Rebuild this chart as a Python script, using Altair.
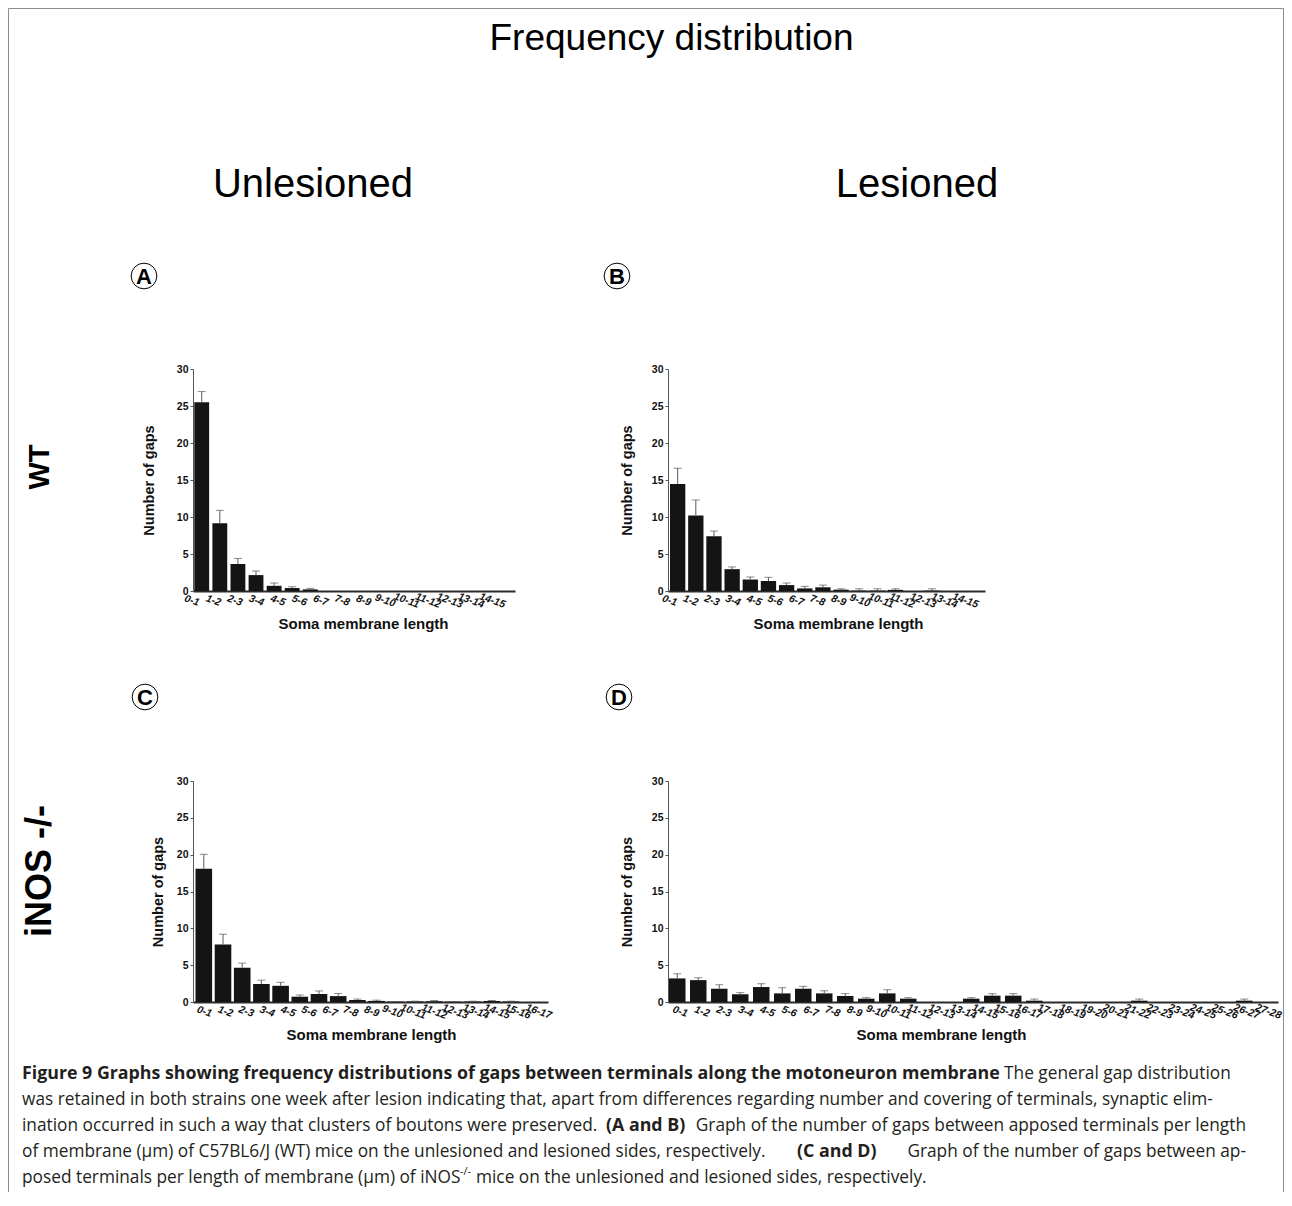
import altair as alt
import pandas as pd

# ---------------- data ----------------
cats_A = ["0-1", "1-2", "2-3", "3-4", "4-5", "5-6", "6-7", "7-8", "8-9", "9-10",
          "10-11", "11-12", "12-13", "13-14", "14-15"]
mean_A = [25.5, 9.15, 3.65, 2.15, 0.70, 0.40, 0.22, 0, 0, 0, 0, 0, 0, 0, 0]
sem_A = [1.45, 1.75, 0.75, 0.55, 0.38, 0.18, 0.14, 0, 0, 0, 0, 0, 0, 0, 0]

cats_B = ["0-1", "1-2", "2-3", "3-4", "4-5", "5-6", "6-7", "7-8", "8-9", "9-10",
          "10-11", "11-12", "12-13", "13-14", "14-15"]
mean_B = [14.45, 10.2, 7.4, 2.95, 1.55, 1.35, 0.80, 0.35, 0.50, 0.18, 0.05, 0.05, 0.15, 0, 0.05]
sem_B = [2.15, 2.10, 0.70, 0.30, 0.35, 0.50, 0.28, 0.28, 0.30, 0.12, 0.25, 0.25, 0.15, 0, 0.25]

cats_C = ["0-1", "1-2", "2-3", "3-4", "4-5", "5-6", "6-7", "7-8", "8-9", "9-10",
          "10-11", "11-12", "12-13", "13-14", "14-15", "15-16", "16-17"]
mean_C = [18.1, 7.8, 4.65, 2.45, 2.2, 0.72, 1.08, 0.80, 0.27, 0.15, 0.05, 0.08, 0.10, 0.05, 0.08, 0.12, 0.08]
sem_C = [1.95, 1.40, 0.63, 0.52, 0.47, 0.23, 0.42, 0.36, 0.13, 0.10, 0.02, 0.03, 0.10, 0.02, 0.03, 0.08, 0.03]

cats_D = ["0-1", "1-2", "2-3", "3-4", "4-5", "5-6", "6-7", "7-8", "8-9", "9-10",
          "10-11", "11-12", "12-13", "13-14", "14-15", "15-16", "16-17", "17-18", "18-19", "19-20",
          "20-21", "21-22", "22-23", "23-24", "24-25", "25-26", "26-27", "27-28"]
mean_D = [3.2, 2.97, 1.8, 1.05, 2.03, 1.17, 1.8, 1.17, 0.82, 0.45, 1.17, 0.45, 0, 0, 0.45, 0.86, 0.86, 0.18,
          0, 0, 0, 0, 0.18, 0, 0, 0, 0, 0.18]
sem_D = [0.63, 0.32, 0.55, 0.22, 0.45, 0.77, 0.32, 0.36, 0.32, 0.14, 0.50, 0.14, 0, 0, 0.14, 0.27, 0.27, 0.22,
         0, 0, 0, 0, 0.22, 0, 0, 0, 0, 0.22]

y_ticks = [0, 5, 10, 15, 20, 25, 30]

main_title = "Frequency distribution"
col_titles = ["Unlesioned", "Lesioned"]
row_titles = ["WT", "iNOS -/-"]
panel_letters = ["A", "B", "C", "D"]

caption_segments = [
    ["Figure 9 Graphs showing frequency distributions of gaps between terminals along the motoneuron membrane",
     ". The general gap distribution"],
    ["was retained in both strains one week after lesion indicating that, apart from differences regarding "
     "number and covering of terminals, synaptic elim-"],
    ["ination occurred in such a way that clusters of boutons were preserved.", "(A and B)",
     "Graph of the number of gaps between apposed terminals per length"],
    ["of membrane (\u03bcm) of C57BL6/J (WT) mice on the unlesioned and lesioned sides, respectively.", "(C and D)",
     "Graph of the number of gaps between ap-"],
    ["posed terminals per length of membrane (\u03bcm) of iNOS", "-/-",
     "mice on the unlesioned and lesioned sides, respectively."],
]

# ---------------- styling ----------------
FONT = "Liberation Sans"
CFONT = "Open Sans"
BAR = "#141414"
ERR = "#5a5a5a"
OX, OY = 193, 369   # page position of panel A's plot origin


def panel(cats, means, sems, w, h, bar_range, bar_pi, lab_band, xt_x, yt_x):
    df = pd.DataFrame({"cat": cats, "mean": means, "sem": sems})
    xs = alt.Scale(domain=cats, range=bar_range, paddingInner=bar_pi, paddingOuter=0)
    ys = alt.Scale(domain=[0, 30], nice=False)
    ya = alt.Axis(values=y_ticks, grid=False, domainColor="#555", domainWidth=1,
                  tickColor="#555", tickSize=3, tickWidth=1, labelOverlap=False,
                  labelFont=FONT, labelFontSize=10.5, labelFontWeight="bold", labelColor="#111",
                  labelPadding=2, title="Number of gaps", titleFont=FONT, titleFontSize=14.5,
                  titleFontWeight="bold", titleColor="#111", titleX=yt_x, titleBaseline="bottom")
    base = alt.Chart(df)
    bars = base.mark_bar(color=BAR).encode(
        x=alt.X("cat:N", sort=None, scale=xs, axis=None),
        y=alt.Y("mean:Q", scale=ys, axis=ya))
    err = base.transform_filter("datum.sem > 0").transform_calculate(top="datum.mean + datum.sem")
    whisk = err.mark_rule(color=ERR, strokeWidth=1).encode(
        x=alt.X("cat:N", sort=None), y=alt.Y("mean:Q", scale=ys, axis=ya), y2="top:Q")
    cap = err.mark_tick(color=ERR, size=8, thickness=1).encode(
        x=alt.X("cat:N", sort=None), y=alt.Y("top:Q", scale=ys, axis=ya))
    lpo, lal = lab_band
    ls = alt.Scale(domain=cats, paddingInner=0, paddingOuter=lpo, align=lal)
    xa = alt.Axis(orient="bottom", labels=False, ticks=False, domainColor="#2b2b2b", domainWidth=2,
                  title="Soma membrane length", titleFont=FONT, titleFontSize=15,
                  titleFontWeight="bold", titleColor="#111", titleX=xt_x, titleY=25,
                  titleBaseline="top", titleAlign="center")
    labels = base.mark_text(angle=20, align="center", baseline="top", font=FONT, fontSize=10.5,
                            fontWeight="bold", fontStyle="italic", color="#111").encode(
        x=alt.X("cat:N", sort=None, scale=ls, axis=xa),
        y=alt.value(h + 5), text="cat:N")
    return alt.layer(alt.layer(bars, whisk, cap), labels).resolve_scale(x="independent")


def one():
    return alt.Chart(pd.DataFrame({"t": [0]}))


def text(s, x, y, size, weight="normal", align="center", baseline="alphabetic", angle=0,
         color="#000", font=FONT):
    return alt.Chart(pd.DataFrame({"t": [s]})).mark_text(
        font=font, fontSize=size, fontWeight=weight, align=align, baseline=baseline,
        angle=angle, color=color).encode(
        x=alt.value(x - OX), y=alt.value(y - OY), text="t:N")


def circle(x, y):
    return one().mark_point(shape="circle", size=660, filled=False, color="#000",
                            strokeWidth=1, opacity=1).encode(
        x=alt.value(x - OX), y=alt.value(y - OY))


def rule(x, y, x2=None, y2=None):
    enc = dict(x=alt.value(x - OX), y=alt.value(y - OY))
    if x2 is not None:
        enc["x2"] = alt.value(x2 - OX)
    if y2 is not None:
        enc["y2"] = alt.value(y2 - OY)
    return one().mark_rule(color="#8c8c8c", strokeWidth=1).encode(**enc)


FR_L, FR_R, FR_T, FR_B = 8.5, 1283.5, 8.5, 1192
annos = [
    rule(FR_L, FR_T, x2=FR_R),
    rule(FR_L, FR_T, y2=FR_B),
    rule(FR_R, FR_T, y2=FR_B),
    text(main_title, 671.5, 49.7, 37),
    text(col_titles[0], 313, 197, 40),
    text(col_titles[1], 917, 197, 40),
    text(row_titles[0], 40, 467, 29, weight="bold", baseline="middle", angle=270),
    text(row_titles[1], 40, 871, 36, weight="bold", baseline="middle", angle=270),
]
for (cx, cy), letter in zip([(144, 276), (617, 276), (145, 697), (619, 697)], panel_letters):
    annos.append(circle(cx, cy))
    annos.append(text(letter, cx, cy + 1, 22, weight="bold", baseline="middle"))

CAP = "#231f20"
CS = 17.3   # regular caption size
CB = 17.8   # bold caption size
ys_cap = [1079, 1105, 1131, 1157, 1183]
seg = caption_segments
annos += [
    text(seg[0][0], 22, ys_cap[0], CB, weight="bold", align="left", color=CAP, font=CFONT),
    text(seg[0][1], 995, ys_cap[0], CS, align="left", color=CAP, font=CFONT),
    text(seg[1][0], 22, ys_cap[1], CS, align="left", color=CAP, font=CFONT),
    text(seg[2][0], 22, ys_cap[2], CS, align="left", color=CAP, font=CFONT),
    text(seg[2][1], 606, ys_cap[2], CB, weight="bold", align="left", color=CAP, font=CFONT),
    text(seg[2][2], 1246, ys_cap[2], CS, align="right", color=CAP, font=CFONT),
    text(seg[3][0], 22, ys_cap[3], CS, align="left", color=CAP, font=CFONT),
    text(seg[3][1], 797, ys_cap[3], CB, weight="bold", align="left", color=CAP, font=CFONT),
    text(seg[3][2], 1246, ys_cap[3], CS, align="right", color=CAP, font=CFONT),
    text(seg[4][0], 22, ys_cap[4], CS, align="left", color=CAP, font=CFONT),
    text(seg[4][1], 460, ys_cap[4] - 8, 11, align="left", color=CAP, font=CFONT),
    text(seg[4][2], 476, ys_cap[4], CS, align="left", color=CAP, font=CFONT),
]

A = alt.layer(
    panel(cats_A, mean_A, sem_A, 322, 222, [1.3, 269.5], 0.18, (0.3264, 0.031), 170, -36.5),
    *annos).properties(width=322, height=222)
B = panel(cats_B, mean_B, sem_B, 317, 222, [2, 271.55], 0.157, (0.4364, 0.156), 170, -33.5
          ).properties(width=317, height=222)
C = panel(cats_C, mean_C, sem_C, 355, 221, [2.5, 326.3], 0.135, (0.362, 0.633), 178, -27.5
          ).properties(width=355, height=221)
D = panel(cats_D, mean_D, sem_D, 610, 221, [1, 584.5], 0.214, (0.03, 0.64), 273, -33.5
          ).properties(width=610, height=221)

chart = alt.concat(
    A, B, C, D, columns=2, spacing={"row": 190, "column": 120}, bounds="flush", align="each"
).properties(padding=0).configure(font=FONT, background="white").configure_view(
    stroke="transparent", strokeWidth=0)

chart.save("out.html", embed_options={"renderer": "svg", "actions": False})
